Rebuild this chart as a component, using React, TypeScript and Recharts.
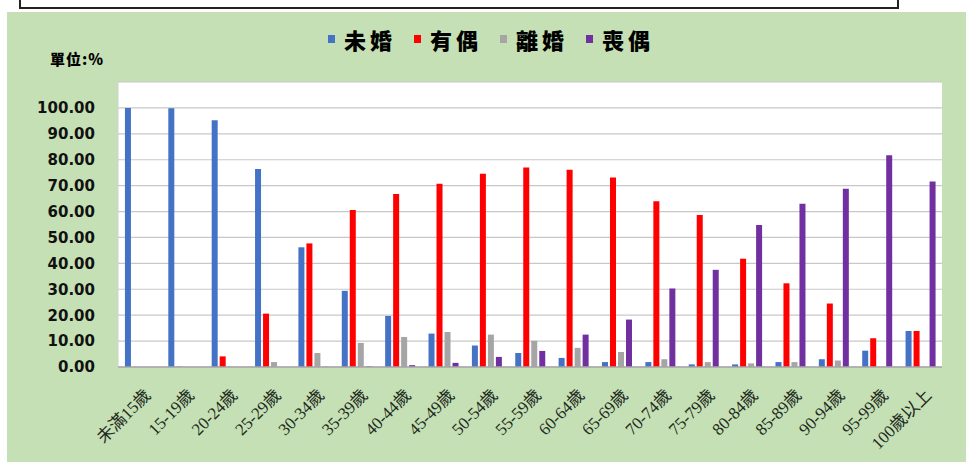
import { BarChart, Bar, XAxis, YAxis, CartesianGrid } from "recharts";

const categories = [
  "未滿15歲", "15-19歲", "20-24歲", "25-29歲", "30-34歲", "35-39歲", "40-44歲",
  "45-49歲", "50-54歲", "55-59歲", "60-64歲", "65-69歲", "70-74歲", "75-79歲",
  "80-84歲", "85-89歲", "90-94歲", "95-99歲", "100歲以上",
];
const neverMarried = [100, 99.9, 95.2, 76.4, 46.2, 29.4, 19.7, 12.9, 8.3, 5.4, 3.5, 1.9, 1.9, 1.0, 1.0, 1.9, 3.0, 6.3, 13.9];
const married = [0, 0.1, 4.1, 20.6, 47.7, 60.6, 66.8, 70.7, 74.6, 77.0, 76.1, 73.1, 64.0, 58.7, 41.8, 32.3, 24.5, 11.1, 13.9];
const divorced = [0, 0, 0.1, 1.9, 5.4, 9.3, 11.6, 13.5, 12.5, 10.1, 7.4, 5.8, 3.0, 1.9, 1.4, 1.9, 2.5, 0, 0];
const widowed = [0, 0, 0, 0, 0.1, 0.2, 0.7, 1.6, 3.9, 6.2, 12.5, 18.3, 30.3, 37.5, 54.8, 63.0, 68.8, 81.7, 71.6];
const yTicks = [0, 10, 20, 30, 40, 50, 60, 70, 80, 90, 100];

const SERIES = [
  { key: "never", name: "未婚", color: "#4472C4" },
  { key: "married", name: "有偶", color: "#FF0000" },
  { key: "divorced", name: "離婚", color: "#A5A5A5" },
  { key: "widowed", name: "喪偶", color: "#7030A0" },
];

const data = categories.map((c, i) => ({
  name: c,
  never: neverMarried[i],
  married: married[i],
  divorced: divorced[i],
  widowed: widowed[i],
}));

const HEAVY = "'Noto Sans CJK TC', sans-serif";

function XTick({ x, y, payload }: any) {
  return (
    <g transform={`translate(${x + 8},${y + 17})`}>
      <text
        textAnchor="end"
        transform="rotate(-45)"
        dy="0.35em"
        fontSize={17}
        fill="#1e2a1e"
        fontFamily="'Liberation Serif', 'Noto Sans CJK TC', serif"
      >
        {payload.value}
      </text>
    </g>
  );
}

export default function App() {
  return (
    <div style={{ position: "absolute", left: 0, top: 0, width: 966, height: 462, background: "#fff", overflow: "hidden" }}>
      <div
        style={{
          position: "absolute", left: 19, top: -3, width: 876, height: 8,
          border: "2px solid #222", background: "#fff",
        }}
      />
      <div style={{ position: "absolute", left: 7, top: 12, right: 0, bottom: 0, background: "#C5E0B4" }} />

      <div
        style={{
          position: "absolute", left: 0, width: 966, top: 23, display: "flex",
          justifyContent: "center", gap: 18, fontFamily: HEAVY, fontWeight: 900,
          fontSize: 22, color: "#000", paddingLeft: 8,
        }}
      >
        {SERIES.map((s) => (
          <span key={s.key} style={{ display: "flex", alignItems: "center", gap: 9 }}>
            <span style={{ width: 7, height: 8, background: s.color, display: "inline-block" }} />
            <span style={{ letterSpacing: 4 }}>{s.name}</span>
          </span>
        ))}
      </div>

      <div
        style={{
          position: "absolute", left: 50, top: 48, fontFamily: HEAVY, fontWeight: 900,
          fontSize: 15, color: "#000", letterSpacing: 1,
        }}
      >
        單位:%
      </div>

      <div style={{ position: "absolute", left: 0, top: 0 }}>
        <BarChart
          width={966}
          height={462}
          data={data}
          margin={{ top: 82, right: 24, left: 8, bottom: 5 }}
          barCategoryGap="16%"
          barGap={2}
        >
          <CartesianGrid vertical={false} stroke="#C8C8C8" strokeWidth={1.2} fill="#FFFFFF" />
          <XAxis
            dataKey="name"
            interval={0}
            height={90}
            tickLine={false}
            axisLine={{ stroke: "#A6A6A6", strokeWidth: 1.5 }}
            tick={<XTick />}
          />
          <XAxis xAxisId="top" orientation="top" dataKey="name" height={0} tick={false} tickLine={false} axisLine={{ stroke: "#D0D0D0" }} />
          <YAxis
            domain={[0, 110]}
            ticks={yTicks}
            width={110}
            tickLine={false}
            tickMargin={17}
            axisLine={{ stroke: "#D0D0D0" }}
            tick={{ fontSize: 15, fontWeight: 700, fill: "#111", fontFamily: "'DejaVu Sans', sans-serif" }}
            tickFormatter={(v) => Number(v).toFixed(2)}
          />
          <YAxis yAxisId="right" orientation="right" width={0} domain={[0, 110]} tick={false} tickLine={false} axisLine={{ stroke: "#D0D0D0" }} />
          {SERIES.map((s) => (
            <Bar key={s.key} dataKey={s.key} name={s.name} fill={s.color} isAnimationActive={false} />
          ))}
        </BarChart>
      </div>
    </div>
  );
}
